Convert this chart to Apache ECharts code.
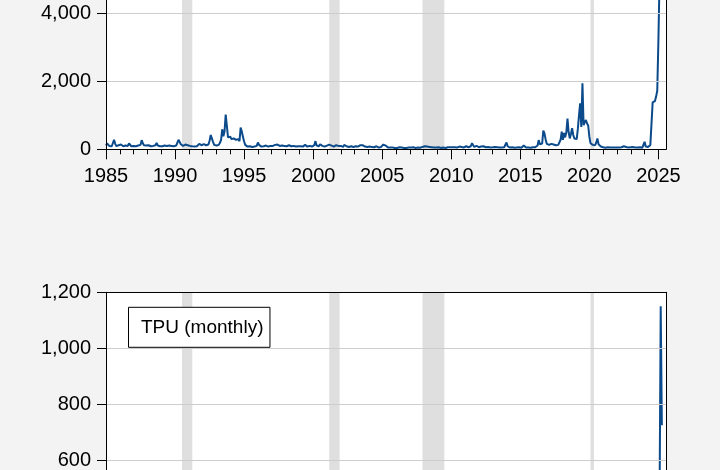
<!DOCTYPE html>
<html>
<head>
<meta charset="utf-8">
<script src="https://cdn.jsdelivr.net/npm/echarts@6/dist/echarts.min.js"></script>
<style>
html,body{margin:0;padding:0;width:720px;height:470px;overflow:hidden;background:#f3f3f3;}
#chart{position:absolute;left:0;top:-200px;width:720px;height:1000px;}
</style>
</head>
<body>
<div id="chart"></div>
<script>
// ---- Data ----
// Top panel: monthly trade policy uncertainty, Jan 1985 .. Apr 2025
const topStartYear = 1985;
const topValues = [
  110,170,130,95,120,90,120,280,160,95,110,120,      // 1985
  100,140,120,90,130,110,150,100,170,120,90,110,     // 1986
  100,120,90,140,110,100,130,270,180,120,130,110,    // 1987
  100,120,110,90,130,100,150,120,190,110,100,90,     // 1988
  100,90,120,110,90,100,140,110,90,100,120,90,       // 1989
  90,110,120,280,300,150,110,100,120,140,110,120,    // 1990
  110,100,110,90,80,85,80,90,130,160,150,120,        // 1991
  110,150,160,120,110,140,250,420,320,220,130,110,   // 1992
  110,120,130,190,280,590,380,520,1020,700,350,330,  // 1993
  370,300,270,320,300,280,230,300,240,640,520,370,   // 1994
  230,130,100,80,80,90,80,70,90,80,90,100,           // 1995
  200,130,90,80,100,90,80,110,90,80,130,100,         // 1996
  90,100,120,130,120,140,110,100,120,110,90,100,     // 1997
  80,90,100,120,100,90,110,100,90,80,100,90,         // 1998
  80,90,70,80,120,130,90,80,110,100,90,80,           // 1999
  90,120,240,110,100,90,150,110,100,70,80,90,        // 2000
  110,90,140,150,110,90,80,100,120,110,100,90,       // 2001
  100,80,70,130,120,90,60,70,80,90,80,70,            // 2002
  80,90,100,80,90,120,140,120,90,80,100,70,          // 2003
  70,80,60,70,80,60,70,90,60,50,60,70,               // 2004
  60,140,150,110,80,50,40,50,40,50,60,40,            // 2005
  50,40,50,60,40,50,45,40,50,40,45,50,               // 2006
  40,50,45,60,50,40,45,50,40,45,50,70,               // 2007
  70,90,100,80,60,70,90,60,70,50,60,55,              // 2008
  50,60,50,40,45,55,50,40,50,60,70,60,               // 2009
  70,60,50,60,55,50,60,80,100,70,60,55,              // 2010
  80,90,70,60,60,90,180,130,70,90,100,60,            // 2011
  60,70,80,60,90,70,60,80,70,60,55,65,               // 2012
  60,55,70,50,60,70,50,60,55,50,60,70,               // 2013
  200,90,60,50,55,60,50,45,50,55,50,60,              // 2014
  50,45,60,110,70,50,45,50,40,45,50,60,              // 2015
  50,60,80,110,270,150,130,170,550,470,290,160,      // 2016
  150,130,140,160,130,140,150,120,140,130,170,280,   // 2017
  520,280,480,350,500,900,500,320,450,620,420,320,   // 2018
  330,300,600,1000,1350,660,1940,710,800,860,760,700,// 2019
  370,180,150,130,140,120,200,320,150,110,80,70,     // 2020
  60,50,45,50,60,55,50,45,50,60,55,50,               // 2021
  50,60,55,70,60,80,90,60,70,60,50,55,               // 2022
  60,55,70,60,50,65,55,50,60,55,45,50,               // 2023
  220,80,60,70,90,130,160,1380,1400,1420,1550,1720,  // 2024
  3200,5000,5800,6500                                // 2025
];

// Bottom panel: TPU (monthly), visible tail, Oct 2024 .. Apr 2025
const tpuName = 'TPU (monthly)';
const tpuStartYear = 2024, tpuStartMonth = 10;
const tpuValues = [250, 280, 300, 320, 450, 1150, 725];

// NBER recessions (peak month, trough month)
const recessionStarts = ['1990-07', '2001-03', '2007-12', '2020-02'];
const recessionEnds   = ['1991-03', '2001-11', '2009-06', '2020-04'];

// Axis ticks
const majorYears = [1985, 1990, 1995, 2000, 2005, 2010, 2015, 2020, 2025];
const minorYears = [];
for (let y = 1985; y <= 2025; y++) minorYears.push(y);

// ---- Build ----
const toDec = (s, end) => {
  const [y, m] = s.split('-').map(Number);
  return y + (end ? m : m - 1) / 12;
};
const bands = recessionStarts.map((s, i) => [{xAxis: toDec(s, false)}, {xAxis: toDec(recessionEnds[i], true)}]);
const topData = topValues.map((v, i) => [topStartYear + i / 12, v]);
const tpuData = tpuValues.map((v, i) => [tpuStartYear + (tpuStartMonth - 1 + i) / 12, v]);

const FONT = 'Liberation Sans, Arial, sans-serif';
const LINE = '#0b4a8b';
const XMIN = 1985, XMAX = 2025.55;

function xAxes(gridIndex) {
  return [
    {
      type: 'value', gridIndex, min: XMIN, max: XMAX, position: 'bottom',
      axisLine: {show: true, onZero: false, lineStyle: {color: '#000', width: 1}},
      axisTick: {show: true, length: 10, lineStyle: {color: '#000'}, customValues: majorYears},
      axisLabel: {show: true, customValues: majorYears, margin: 17, fontSize: 20, color: '#000', fontFamily: FONT,
                  formatter: v => String(Math.round(v))},
      splitLine: {show: false}, z: 4
    },
    {
      type: 'value', gridIndex, min: XMIN, max: XMAX, position: 'bottom',
      axisLine: {show: false},
      axisTick: {show: true, length: 5, lineStyle: {color: '#000'}, customValues: minorYears},
      axisLabel: {show: false},
      splitLine: {show: false}
    },
    { // frame: top edge
      type: 'value', gridIndex, min: XMIN, max: XMAX, position: 'top',
      axisLine: {show: true, onZero: false, lineStyle: {color: '#000', width: 1}},
      axisTick: {show: false}, axisLabel: {show: false}, splitLine: {show: false}, z: 4
    }
  ];
}

function yAxes(gridIndex, max, interval) {
  return [
    {
      type: 'value', gridIndex, min: 0, max, interval, position: 'left',
      axisLine: {show: true, onZero: false, lineStyle: {color: '#000', width: 1}},
      axisTick: {show: true, length: 9, lineStyle: {color: '#000'}},
      axisLabel: {margin: 15, fontSize: 20, color: '#000', fontFamily: FONT,
                  formatter: v => v.toLocaleString('en-US')},
      splitLine: {show: true, lineStyle: {color: '#cdcdcd', width: 1}}, z: 4
    },
    { // frame: right edge
      type: 'value', gridIndex, min: 0, max, interval, position: 'right',
      axisLine: {show: true, onZero: false, lineStyle: {color: '#000', width: 1}},
      axisTick: {show: false}, axisLabel: {show: false}, splitLine: {show: false}, z: 4
    }
  ];
}

const bandSeries = (xi, yi) => ({
  type: 'line', xAxisIndex: xi, yAxisIndex: yi, data: [], silent: true, z: -1,
  markArea: {silent: true, z: -1, itemStyle: {color: '#dfdfdf'}, data: bands}
});

const option = {
  backgroundColor: '#f3f3f3',
  animation: false,
  textStyle: {fontFamily: FONT},
  grid: [
    {left: 106, width: 560, top: 77.3, height: 272, show: true, backgroundColor: '#fff', borderWidth: 0, z: -5},
    {left: 106, width: 560, top: 492.3, height: 336, show: true, backgroundColor: '#fff', borderWidth: 0, z: -5}
  ],
  xAxis: [...xAxes(0), ...xAxes(1)],
  yAxis: [...yAxes(0, 8000, 2000), ...yAxes(1, 1200, 200)],
  legend: {
    data: [tpuName], left: 128.5, top: 507.3,
    backgroundColor: '#fff', borderColor: '#000', borderWidth: 1,
    padding: [10, 6.5, 10, 7.5], icon: 'rect', itemWidth: 0, itemHeight: 20,
    textStyle: {fontSize: 19, color: '#000', fontFamily: FONT}
  },
  series: [
    bandSeries(0, 0),
    bandSeries(3, 2),
    {
      name: 'Trade policy uncertainty', type: 'line', xAxisIndex: 0, yAxisIndex: 0,
      data: topData, showSymbol: false, lineStyle: {color: LINE, width: 2}, itemStyle: {color: LINE}, z: 3
    },
    {
      name: tpuName, type: 'line', xAxisIndex: 3, yAxisIndex: 2,
      data: tpuData, showSymbol: false, lineStyle: {color: LINE, width: 2}, itemStyle: {color: LINE}, z: 3
    }
  ]
};

const chart = echarts.init(document.getElementById('chart'), null, {renderer: 'canvas'});
chart.setOption(option);
</script>
</body>
</html>
